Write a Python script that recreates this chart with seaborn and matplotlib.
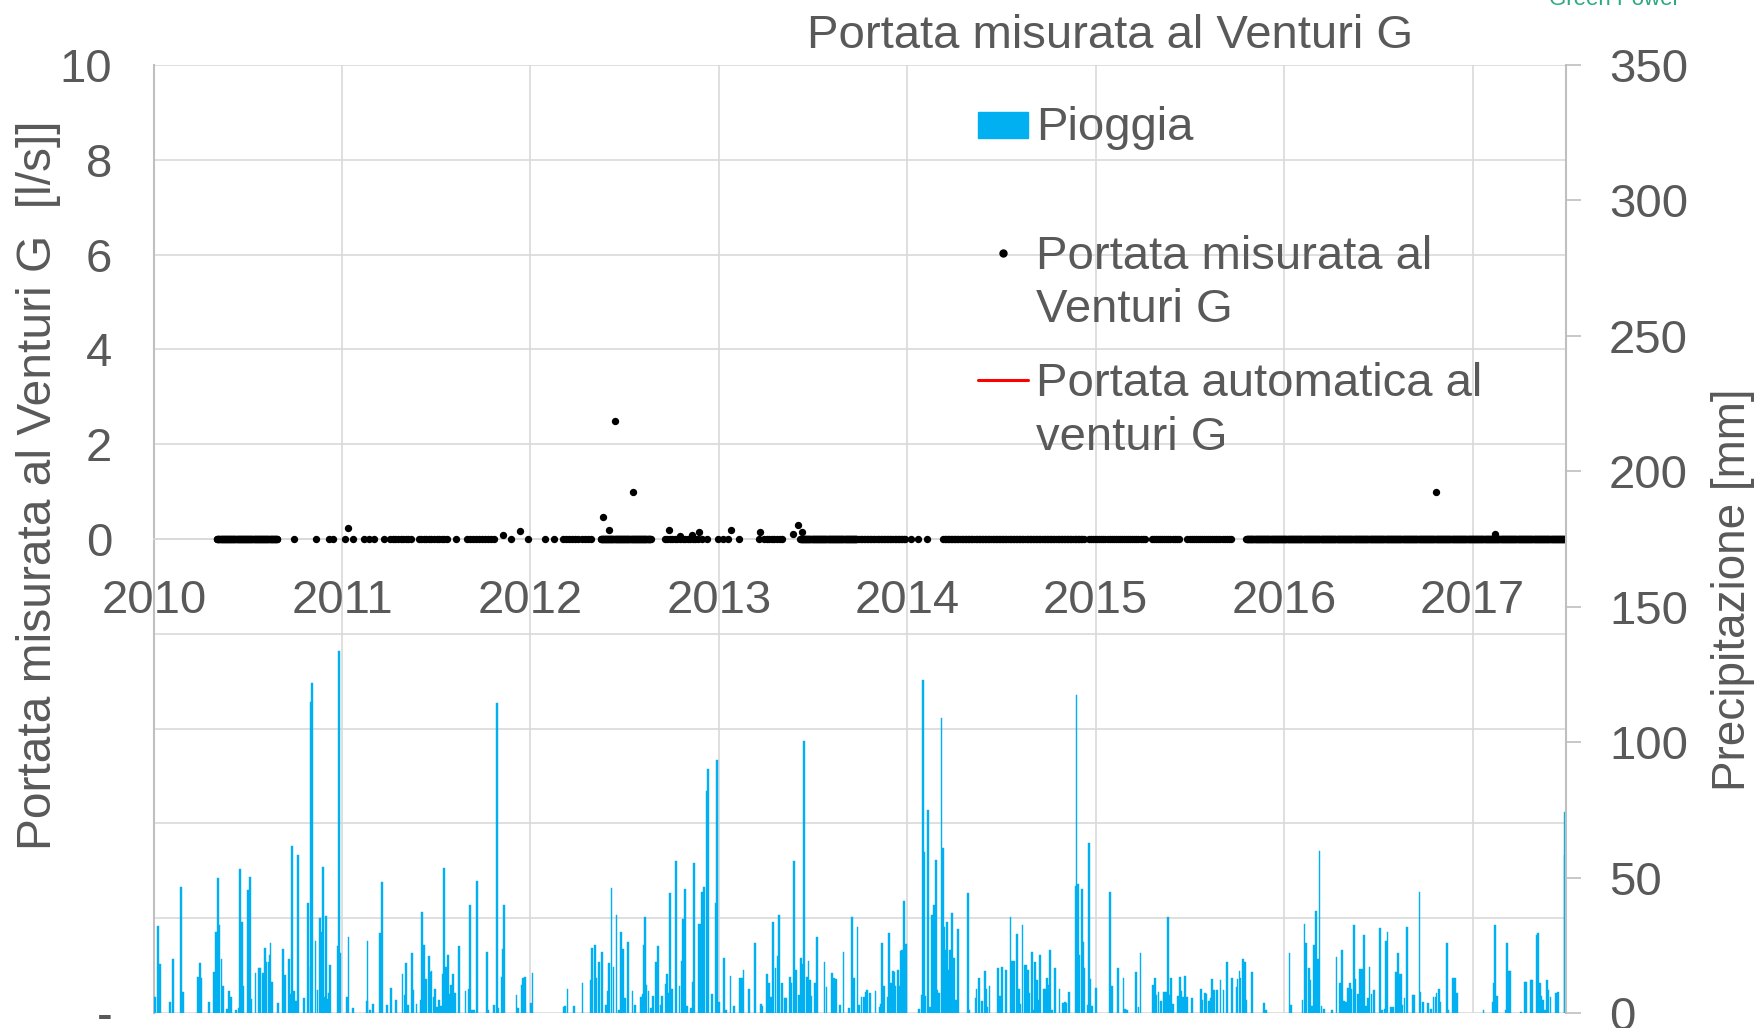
import matplotlib
matplotlib.use('Agg')
import matplotlib.pyplot as plt
import matplotlib.dates as mdates
from matplotlib.patches import Rectangle
from matplotlib.lines import Line2D
import pandas as pd
import seaborn as sns


START = pd.Timestamp('2010-01-01')

# daily rain: day number counted from 2010-01-01, and mm
rain_day = [
    2, 8, 12, 31, 37, 52, 57, 86, 89, 92,
    107, 116, 120, 124, 126, 131, 134, 142, 146, 149,
    159, 164, 166, 170, 173, 183, 186, 188, 197, 203,
    206, 211, 215, 218, 222, 224, 226, 229, 240, 250,
    254, 261, 263, 268, 272, 275, 279, 291, 299, 304,
    305, 307, 313, 317, 322, 325, 328, 331, 334, 337,
    340, 342, 356, 358, 361, 374, 377, 386, 413, 414,
    419, 425, 438, 442, 452, 460, 469, 482, 486, 488,
    493, 501, 503, 509, 517, 520, 524, 527, 533, 535,
    538, 542, 545, 548, 552, 557, 560, 563, 566, 570,
    573, 576, 580, 584, 592, 604, 610, 613, 616, 620,
    627, 646, 648, 659, 665, 667, 675, 677, 679, 703,
    706, 713, 716, 720, 731, 734,
    794, 797, 802, 814, 831, 847, 849, 855, 858, 863,
    868, 876, 880, 882, 887, 891, 897, 901, 906, 910,
    914, 919, 928, 932, 944, 948, 950, 952, 955, 959,
    964, 968, 974, 977, 983, 985, 992, 994, 998, 1001,
    1004, 1012, 1019, 1023, 1026, 1030, 1034, 1041, 1045, 1047,
    1056, 1058, 1063, 1067, 1072, 1074, 1082, 1089, 1091, 1095,
    1105, 1109, 1118, 1124, 1136, 1140, 1143, 1153, 1165, 1177,
    1180, 1188, 1193, 1197, 1200, 1205, 1209, 1212, 1217, 1223,
    1226, 1233, 1236, 1241, 1245, 1250, 1254, 1259, 1261, 1266,
    1269, 1272, 1275, 1282, 1286, 1300, 1304, 1315, 1319, 1322,
    1330, 1337, 1348, 1353, 1358, 1364, 1367, 1372, 1376, 1380,
    1383, 1388, 1399, 1407, 1409, 1412, 1415, 1424, 1426, 1429,
    1433, 1435, 1438, 1443, 1445, 1449, 1451, 1454, 1458, 1484,
    1489, 1491, 1493, 1496, 1501, 1504, 1509, 1513, 1516, 1519,
    1522, 1527, 1530, 1532, 1535, 1538, 1541, 1544, 1547, 1551,
    1555, 1559, 1579, 1581, 1593, 1595, 1600,
    1605, 1611, 1613, 1616, 1620, 1636, 1640, 1644, 1652, 1661,
    1664, 1667, 1673, 1677, 1679, 1684, 1688, 1691, 1694, 1697,
    1702, 1705, 1708, 1712, 1715, 1718, 1726, 1728, 1732, 1735,
    1738, 1741, 1747, 1756, 1763, 1766, 1768, 1775, 1787, 1789,
    1791, 1794, 1799, 1802, 1804, 1811, 1813, 1816, 1819, 1827,
    1854, 1858, 1870, 1880, 1883, 1886, 1904, 1909, 1913, 1937,
    1941, 1944, 1948, 1953, 1959, 1962, 1966, 1969, 1972, 1976,
    1986, 1989, 1992, 1996, 1999, 2003, 2013, 2030, 2033, 2038,
    2041, 2045, 2049, 2052, 2056, 2061, 2068, 2074, 2080, 2091,
    2099, 2101, 2105, 2107, 2111, 2115, 2118, 2129, 2152, 2156,
    2202, 2204, 2227, 2231, 2234, 2240, 2242, 2246, 2250, 2253,
    2257, 2260, 2264, 2269, 2284, 2293, 2299, 2303, 2308, 2311,
    2316, 2319, 2322, 2327, 2330, 2335, 2339, 2342, 2347, 2350,
    2354, 2357, 2361, 2365, 2377, 2381, 2386, 2389, 2392,
    2399, 2402, 2408, 2412, 2415, 2418, 2421, 2425, 2429, 2441,
    2443, 2454, 2456, 2460, 2471, 2476, 2481, 2485, 2487, 2491,
    2494, 2507, 2510, 2519, 2522, 2527, 2578, 2596, 2598, 2600,
    2604, 2622, 2624, 2627, 2629, 2650, 2659, 2661, 2670, 2672,
    2681, 2683, 2687, 2690, 2694, 2697, 2701, 2703, 2708, 2719,
    2723, 2735, 2736,
]
rain_mm = [
    6, 32, 18, 4, 20, 46.6, 7.6, 13.4, 18.6, 13,
    4, 15, 30, 50, 32.5, 20, 10, 1.5, 8, 6,
    1, 2, 53, 33.7, 10, 45.4, 50.2, 5, 14.6, 16.5,
    16.5, 14.6, 24, 19, 19, 21.4, 26, 11.6, 3.6, 23.6,
    14, 20, 7, 61.8, 8, 4.5, 58.2, 5.4, 40.7, 17,
    115, 122, 26.7, 8.5, 35, 30, 53.8, 6, 35.8, 5,
    7.5, 17.7, 24.7, 133.6, 22, 6, 28.2, 2, 4.5, 26.7,
    1, 3.3, 29.4, 48.2, 3, 9.4, 4.8, 14.3, 6.6, 18.3,
    3, 22, 8.5, 3.3, 4.8, 37.4, 25, 12.4, 21, 15,
    15.6, 6, 8.7, 2.3, 4.8, 2.6, 14.3, 53.4, 17, 21.4,
    7, 10.3, 14.3, 7.5, 24.7, 8, 9, 40, 1, 1,
    48.6, 22.6, 1, 2.8, 114.4, 1.7, 13.4, 23.6, 40, 6.6,
    1.7, 10.3, 13, 13.4, 3.6, 14.6,
    2.3, 2.6, 9, 2.6, 11, 12.2, 24, 25, 12.8, 19,
    22.6, 3, 8, 18.3, 46, 17, 36, 1, 30, 23.5,
    5.4, 26.3, 8.2, 3, 6, 7, 25, 35.3, 10.3, 8,
    2, 6.4, 19, 24.7, 3, 6.4, 10.7, 14.3, 7.3, 44.4,
    9, 56.2, 10, 19.2, 34.6, 45.8, 2.6, 2, 11.6, 55.2,
    33, 33, 44.5, 46.4, 82, 90, 7, 40.7, 93.5, 4,
    20.2, 1, 13.7, 2.6, 13, 13, 16, 8.7, 25.7, 3.2,
    2.6, 14.3, 11, 6, 33.7, 16.5, 21, 36.2, 11, 5.4,
    5.6, 13.2, 11, 56.2, 15.9, 6.6, 20.2, 18, 100.5, 13.4,
    19.2, 12.2, 6.3, 11, 28.2, 18.7, 9.7, 14.6, 13, 12.4,
    3, 22.6, 2, 35.6, 12.8, 31.6, 3, 6, 6, 7.9,
    8.5, 7.3, 8.2, 2.3, 3.5, 25.7, 10, 6, 29.4, 11,
    15.6, 15.3, 10, 16, 10, 23, 23.2, 41.5, 25.5, 1.4,
    6.6, 123, 59.6, 6.3, 75, 2.3, 36.2, 40, 56.5, 8.5,
    7.3, 109, 60.8, 31.9, 23.3, 33.7, 15.9, 23.3, 36.8, 20.2,
    4.8, 31, 44.2, 1, 5.4, 8.7, 12.8,
    4.4, 15.6, 8.7, 2.3, 10, 16.5, 6.3, 17, 16, 35.6,
    19.2, 19.2, 29.2, 8.7, 3.5, 32.5, 17.7, 17.7, 16, 7.3,
    22.6, 1, 19, 12.2, 4.8, 21.4, 9, 9, 12.8, 10.3,
    23.3, 1, 16.7, 8.7, 3.6, 4.2, 3.6, 7.9, 46.9, 117.4,
    47.6, 21.4, 45.8, 26.3, 16.7, 3, 62.6, 12.4, 2.7, 9.4,
    44.5, 10, 16.7, 12.8, 1.5, 1, 15.3, 2.3, 22, 10.3,
    12.8, 6.6, 7.9, 4.5, 7.6, 7.6, 35.6, 6.6, 13, 3.3,
    6.3, 13.2, 8.1, 6, 13.7, 6, 5.7, 8.7, 4.8, 7.5,
    6.9, 4.5, 5.4, 12.4, 8.5, 8.5, 12.2, 8.5, 19, 12.8,
    9.7, 12.4, 15.5, 12.8, 20, 18.7, 4.8, 15.3, 3.6, 1,
    22, 3, 4.8, 32.9, 25.7, 16.7, 12.2, 2.6, 25, 37.6,
    20, 59.8, 2.6, 1.4, 1, 20.8, 11.2, 23.3, 4.5, 4.2,
    9.4, 11, 9, 32.5, 12.4, 7, 16.1, 16.1, 28.8, 2.7,
    5.4, 16.9, 7, 8.5, 31.5, 1, 1.4, 26.7, 30,
    2.3, 2.3, 15, 22, 14.3, 14.3, 3, 5.4, 31.9, 6.6,
    6.6, 44.5, 7.9, 4.2, 3.6, 1.4, 6, 6, 7.5, 8.7,
    4.2, 26, 1, 12.8, 12.8, 7.5, 1, 4.2, 11.2, 32.5,
    6.4, 1, 25.7, 15.6, 15.6, 0.5, 11.6, 11.6, 12, 12.2,
    28.8, 29.4, 11, 6.3, 4.8, 1, 12, 8.5, 6, 7.3,
    7.6, 74.3, 58.3,
]

# measured flow at Venturi G (l/s): readings above zero
flow_day = [376, 677, 710, 871, 882, 893, 928, 998, 1020, 1043,
            1057, 1119, 1175, 1240, 1249, 1256, 2485, 2600]
flow_ls = [0.24, 0.08, 0.17, 0.47, 0.2, 2.5, 1.0, 0.19, 0.06, 0.08,
           0.15, 0.2, 0.15, 0.1, 0.29, 0.15, 1.0, 0.11]

# zero readings: periods of regular readings (start, end, every n days) ...
zero_start = [122, 458, 513, 606, 793, 866, 990, 1183, 1253, 1367,
              1530, 1813, 1935, 2004, 2118]
zero_end = [239, 499, 568, 665, 852, 963, 1058, 1218, 1363, 1457,
            1803, 1921, 1987, 2090, 2736]
zero_every = [1, 5, 5, 6, 6, 1, 5, 5, 1, 3, 3, 4, 4, 4, 1]
# ... and single zero readings in between
zero_day = [271, 314, 340, 347, 371, 385, 408, 416, 426, 446, 586,
            693, 726, 759, 776, 1062, 1073, 1093, 1104, 1114, 1134,
            1173, 1467, 1481, 1498]

left_ticks = [-10, -8, -6, -4, -2, 0, 2, 4, 6, 8, 10]
left_labels = ['-', '', '', '', '', '0', '2', '4', '6', '8', '10']
right_ticks = [0, 50, 100, 150, 200, 250, 300, 350]

assert len(rain_day) == len(rain_mm)

sns.set_style('white')
plt.rcParams['font.family'] = ['Liberation Sans', 'DejaVu Sans']

TXT = '#595959'
GRID = '#D9D9D9'
AXIS = '#BFBFBF'
BLUE = '#00B0F0'
W, H = 1762, 1028


def fx(px):
    return px / W


def fy(py):
    return 1 - py / H


zeros = list(zero_day)
for s, e, n in zip(zero_start, zero_end, zero_every):
    zeros += list(range(s, e + 1, n))
flow = pd.DataFrame({'day': zeros + flow_day,
                     'q': [0.0] * len(zeros) + flow_ls})
flow['date'] = START + pd.to_timedelta(flow['day'], unit='D')

rain = pd.DataFrame({'date': START + pd.to_timedelta(rain_day, unit='D'),
                     'mm': rain_mm})

fig = plt.figure(figsize=(W / 100, H / 100), dpi=100)
ax = fig.add_axes([fx(154), fy(1013), 1412 / W, 948 / H])
ax2 = ax.twinx()

# rain bars on the right axis
ax2.bar(rain['date'], rain['mm'], width=3.5, color=BLUE,
        edgecolor=BLUE, linewidth=0.3)

# measured flow on the left axis
sns.scatterplot(data=flow, x='date', y='q', ax=ax, color='black', s=28,
                linewidth=0, legend=False, zorder=5)

ax.set_xlim(START, START + pd.Timedelta(days=2738))
ax.set_ylim(-10, 10)
ax.set_yticks(left_ticks, labels=left_labels)
ax.xaxis.set_major_locator(mdates.YearLocator())
ax.xaxis.set_major_formatter(mdates.DateFormatter('%Y'))
ax.grid(True, color=GRID, linewidth=1.2)
ax.set_axisbelow(True)
ax.set_xlabel('')
ax.set_ylabel('')
ax.spines['bottom'].set_position(('data', 0))
ax.spines['bottom'].set_color(GRID)
ax.spines['bottom'].set_linewidth(1.2)
ax.spines['top'].set_visible(False)
ax.spines['right'].set_visible(False)
ax.spines['left'].set_color(AXIS)
ax.spines['left'].set_linewidth(1.5)
ax.tick_params(axis='y', length=0, pad=30, labelsize=34, labelcolor=TXT)
ax.tick_params(axis='x', length=0, pad=29, labelsize=34, labelcolor=TXT)

ax2.set_ylim(0, 350)
ax2.set_yticks(right_ticks)
ax2.grid(False)
for side in ['top', 'bottom', 'left']:
    ax2.spines[side].set_visible(False)
ax2.spines['right'].set_color(AXIS)
ax2.spines['right'].set_linewidth(1.5)
ax2.tick_params(axis='y', length=11, width=1.2, color=AXIS, pad=20,
                labelsize=34, labelcolor=TXT)

# titles and axis labels
fig.text(fx(1110), fy(36), 'Portata misurata al Venturi G', fontsize=34,
         color=TXT, ha='center', va='center')
fig.text(fx(1549), fy(5), 'Green Power', fontsize=16, color='#2BAA7E',
         ha='left', va='baseline')
fig.text(fx(39), fy(485), 'Portata misurata al Venturi G  [l/s]]',
         fontsize=34.5, color=TXT, rotation=90, ha='center', va='center')
fig.text(fx(1733), fy(590), 'Precipitazione [mm]', fontsize=33,
         color=TXT, rotation=90, ha='center', va='center')

# legend
fig.add_artist(Rectangle((fx(978), fy(138)), 50 / W, 26 / H, color=BLUE,
                         transform=fig.transFigure))
fig.text(fx(1036), fy(128), 'Pioggia', fontsize=34, color=TXT, va='center')
fig.add_artist(Line2D([fx(1003)], [fy(253)], marker='o', markersize=5,
                      color='black', linestyle='none',
                      transform=fig.transFigure))
fig.text(fx(1036), fy(257), 'Portata misurata al', fontsize=34, color=TXT,
         va='center')
fig.text(fx(1036), fy(310), 'Venturi G', fontsize=34, color=TXT,
         va='center')
fig.add_artist(Line2D([fx(978), fx(1028)], [fy(380), fy(380)],
                      color='#FF0000', linewidth=2.2,
                      transform=fig.transFigure))
fig.text(fx(1036), fy(384), 'Portata automatica al', fontsize=34,
         color=TXT, va='center')
fig.text(fx(1036), fy(438), 'venturi G', fontsize=34, color=TXT,
         va='center')

fig.savefig('out.png', dpi=100)
